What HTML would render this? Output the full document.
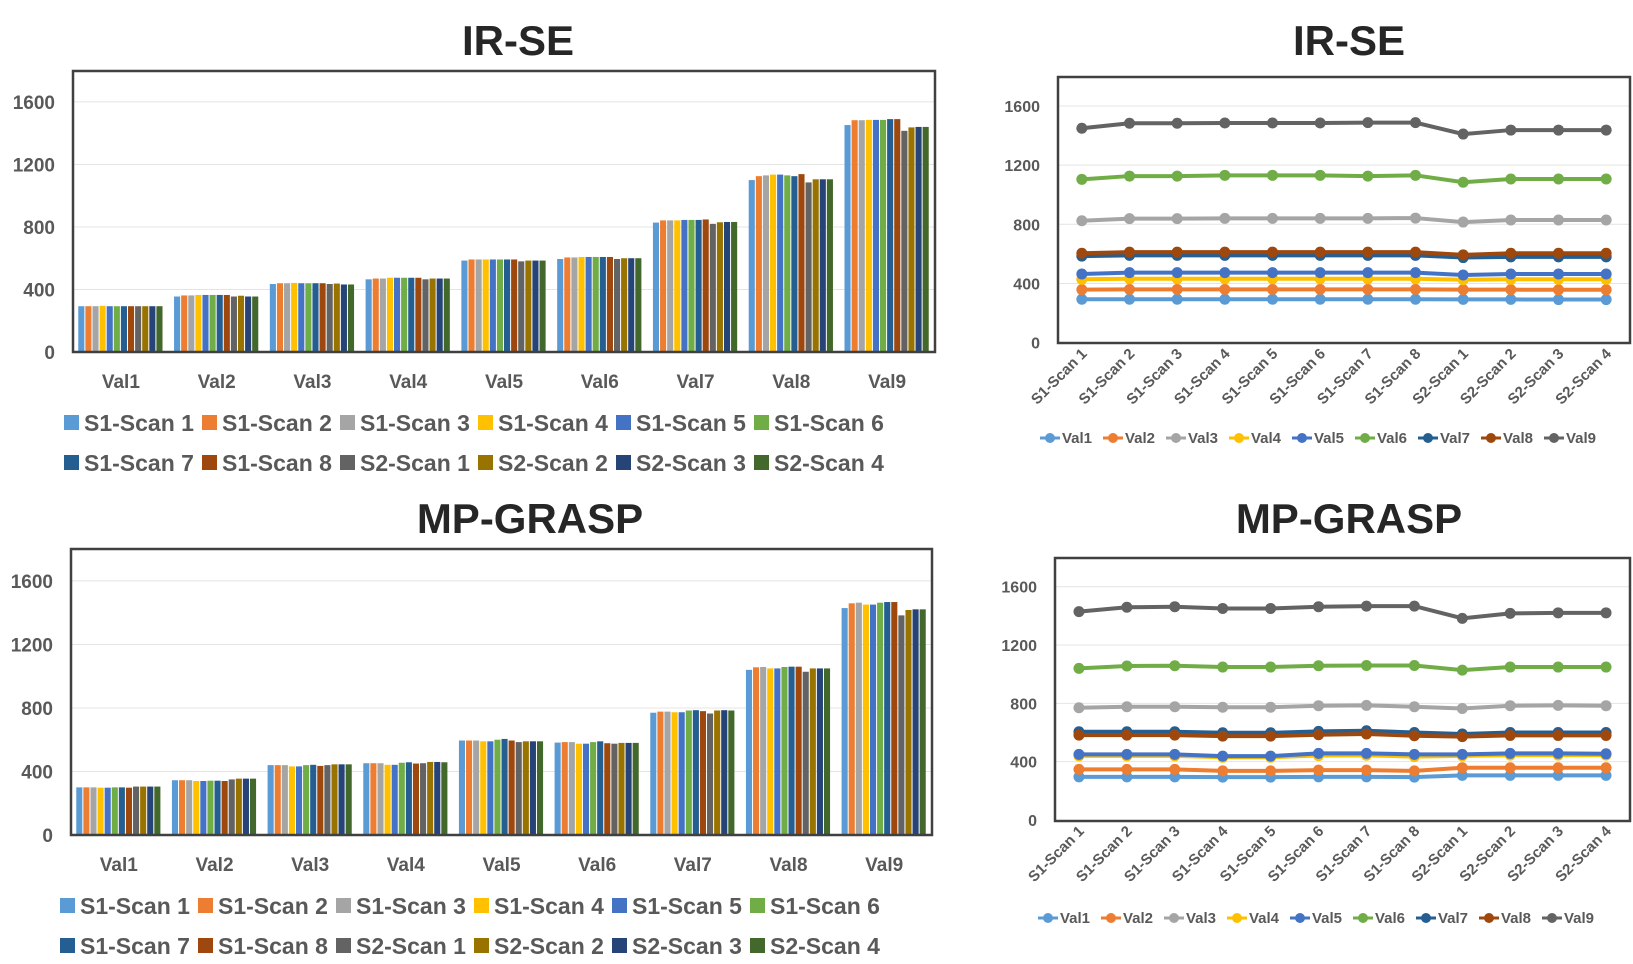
<!DOCTYPE html>
<html><head><meta charset="utf-8"><style>
html,body{margin:0;padding:0;background:#fff;}
svg{display:block;font-family:"Liberation Sans",sans-serif;}
</style></head><body>
<svg id="s" width="1633" height="964" viewBox="0 0 1633 964" xmlns="http://www.w3.org/2000/svg"></svg>
<script>
const categories = ["Val1","Val2","Val3","Val4","Val5","Val6","Val7","Val8","Val9"];
const scans = ["S1-Scan 1","S1-Scan 2","S1-Scan 3","S1-Scan 4","S1-Scan 5","S1-Scan 6","S1-Scan 7","S1-Scan 8","S2-Scan 1","S2-Scan 2","S2-Scan 3","S2-Scan 4"];
const yTicks = [0,400,800,1200,1600];
const colors = ["#5B9BD5","#ED7D31","#A5A5A5","#FFC000","#4472C4","#70AD47","#255E91","#9E480E","#636363","#997300","#264478","#43682B"];
// IR-SE bars: values per category (12 scans)
const irBarVal1 = [293,293,293,295,293,293,293,293,293,293,293,293];
const irBarVal2 = [355,362,362,365,365,365,365,365,355,360,355,355];
const irBarVal3 = [435,440,440,442,440,440,440,440,435,438,432,432];
const irBarVal4 = [465,470,470,475,475,475,475,475,465,470,470,470];
const irBarVal5 = [585,592,592,592,592,592,592,592,580,585,585,585];
const irBarVal6 = [595,605,605,608,608,608,608,608,595,600,600,600];
const irBarVal7 = [828,842,842,842,845,845,845,848,820,830,832,832];
const irBarVal8 = [1100,1125,1130,1135,1135,1130,1125,1138,1085,1105,1105,1105];
const irBarVal9 = [1452,1483,1483,1485,1485,1485,1490,1490,1415,1437,1440,1440];
// MP-GRASP bars
const mpBarVal1 = [300,300,300,298,298,300,300,298,305,305,305,305];
const mpBarVal2 = [345,345,345,340,340,342,342,340,350,355,355,355];
const mpBarVal3 = [440,440,440,432,432,440,442,435,440,445,445,445];
const mpBarVal4 = [452,452,452,442,442,455,458,450,452,460,460,458];
const mpBarVal5 = [595,595,595,590,590,600,605,595,585,590,590,590];
const mpBarVal6 = [582,585,585,575,575,585,590,578,575,580,580,580];
const mpBarVal7 = [770,777,777,773,773,784,786,780,765,784,786,784];
const mpBarVal8 = [1040,1056,1058,1049,1049,1058,1060,1060,1028,1049,1049,1049];
const mpBarVal9 = [1429,1459,1463,1451,1451,1463,1467,1467,1383,1417,1421,1421];
// IR-SE lines: values per series across 12 scans
const irLineVal1 = [293,293,293,293,293,293,293,293,292,292,291,291];
const irLineVal2 = [358,360,360,360,360,360,360,360,358,358,357,357];
const irLineVal3 = [824,838,838,840,840,840,840,842,815,829,829,829];
const irLineVal4 = [428,432,432,432,432,432,432,432,425,428,428,428];
const irLineVal5 = [464,473,473,473,473,473,473,473,457,464,464,464];
const irLineVal6 = [1104,1126,1126,1131,1131,1131,1126,1131,1084,1106,1106,1106];
const irLineVal7 = [585,590,590,590,590,590,590,590,575,580,580,580];
const irLineVal8 = [604,612,612,612,612,612,612,612,593,604,604,604];
const irLineVal9 = [1449,1483,1483,1485,1485,1485,1487,1487,1410,1437,1437,1437];
// MP-GRASP lines
const mpLineVal1 = [296,296,296,294,294,296,296,294,306,306,306,306];
const mpLineVal2 = [347,347,347,337,337,342,342,337,358,358,358,358];
const mpLineVal3 = [770,777,777,773,773,784,786,777,765,784,786,784];
const mpLineVal4 = [440,440,440,430,430,442,444,435,440,445,445,445];
const mpLineVal5 = [450,450,450,438,438,457,457,450,450,457,457,454];
const mpLineVal6 = [1040,1056,1058,1049,1049,1058,1060,1060,1028,1049,1049,1049];
const mpLineVal7 = [605,605,605,598,598,608,612,600,590,600,600,600];
const mpLineVal8 = [582,582,582,575,575,585,590,578,572,580,580,580];
const mpLineVal9 = [1429,1459,1463,1451,1451,1463,1467,1467,1383,1417,1421,1421];

const irBars = [irBarVal1,irBarVal2,irBarVal3,irBarVal4,irBarVal5,irBarVal6,irBarVal7,irBarVal8,irBarVal9];
const mpBars = [mpBarVal1,mpBarVal2,mpBarVal3,mpBarVal4,mpBarVal5,mpBarVal6,mpBarVal7,mpBarVal8,mpBarVal9];
const irLines = [irLineVal1,irLineVal2,irLineVal3,irLineVal4,irLineVal5,irLineVal6,irLineVal7,irLineVal8,irLineVal9];
const mpLines = [mpLineVal1,mpLineVal2,mpLineVal3,mpLineVal4,mpLineVal5,mpLineVal6,mpLineVal7,mpLineVal8,mpLineVal9];

const NS="http://www.w3.org/2000/svg";
const svg=document.getElementById('s');
function mk(tag,attrs,parent,text){const e=document.createElementNS(NS,tag);for(const k in attrs)e.setAttribute(k,attrs[k]);if(text!==undefined)e.textContent=text;(parent||svg).appendChild(e);return e;}

function title(txt,cx,y,name){
  const t=mk('text',{x:cx,y:y,'text-anchor':'middle','font-size':42,'font-weight':'bold',fill:'#262626'},svg,txt);
  
  
}

function barChart(o){
  const g=mk('g',{});
  
  
  const y=v=>o.y0-v*o.k;
  yTicks.forEach(t=>{
    if(t>0){const gl=mk('line',{x1:o.l,x2:o.r,y1:y(t),y2:y(t),stroke:'#e4e4e4','stroke-width':1},g);
    
    }
    const tl=mk('text',{x:o.l-18,y:y(t)+7,'text-anchor':'end','font-size':19,'font-weight':'bold',fill:'#595959'},g,String(t));
    
    
  });
  const band=(o.r-o.l)/categories.length;
  const bw=(band*0.89)/scans.length;
  categories.forEach((c,ci)=>{
    const gx=o.l+ci*band+band*0.055;
    o.data[ci].forEach((v,si)=>{
      const b=mk('rect',{x:gx+si*bw,y:y(v),width:bw-1,height:o.y0-y(v),fill:colors[si]},g);
      
      
    });
    const cl=mk('text',{x:o.l+ci*band+band/2,y:o.catY,'text-anchor':'middle','font-size':19,'font-weight':'bold',fill:'#595959'},g,c);
    
    
  });
  const fr=mk('rect',{x:o.l,y:o.t,width:o.r-o.l,height:o.y0-o.t,fill:'none',stroke:'#404040','stroke-width':2.5},g);
  
  
  scans.forEach((s,i)=>{
    const row=Math.floor(i/6),col=i%6;
    const lx=o.legX+col*138, ly=o.legY+row*40;
    const e=mk('g',{},g);
    
    
    mk('rect',{x:lx,y:ly-16,width:15,height:15,fill:colors[i]},e);
    mk('text',{x:lx+20,y:ly,'font-size':23,'font-weight':'bold',fill:'#595959'},e,s);
  });
}

function lineChart(o){
  const g=mk('g',{});
  
  
  const y=v=>o.y0-v*o.k;
  const step=(o.r-o.l)/scans.length;
  const x=i=>o.l+step*(i+0.5);
  yTicks.forEach(t=>{
    if(t>0){const gl=mk('line',{x1:o.l,x2:o.r,y1:y(t),y2:y(t),stroke:'#e4e4e4','stroke-width':1},g);
    
    }
    const tl=mk('text',{x:o.l-18,y:y(t)+6,'text-anchor':'end','font-size':16,'font-weight':'bold',fill:'#595959'},g,String(t));
    
    
  });
  scans.forEach((s,i)=>{
    const tx=x(i)+6, ty=o.y0+12;
    const tl=mk('text',{x:tx,y:ty,'text-anchor':'end','font-size':15,'font-weight':'bold',fill:'#595959',transform:`rotate(-45 ${tx} ${ty})`},g,s);
    
    
  });
  o.data.forEach((arr,si)=>{
    const pts=arr.map((v,i)=>x(i)+','+y(v)).join(' ');
    const pl=mk('polyline',{points:pts,fill:'none',stroke:colors[si],'stroke-width':4},g);
    
    
    arr.forEach((v,i)=>{
      const c=mk('circle',{cx:x(i),cy:y(v),r:5.5,fill:colors[si]},g);
      
      
    });
  });
  const fr=mk('rect',{x:o.l,y:o.t,width:o.r-o.l,height:o.bottom-o.t,fill:'none',stroke:'#404040','stroke-width':2.5},g);
  
  
  categories.forEach((c,i)=>{
    const lx=o.legX+i*63, ly=o.legY;
    const e=mk('g',{},g);
    
    
    mk('line',{x1:lx,x2:lx+20,y1:ly-5,y2:ly-5,stroke:colors[i],'stroke-width':3},e);
    mk('circle',{cx:lx+10,cy:ly-5,r:5,fill:colors[i]},e);
    mk('text',{x:lx+22,y:ly,'font-size':15,'font-weight':'bold',fill:'#595959'},e,c);
  });
}

title('IR-SE',518,55,'title-irse-bar');
title('MP-GRASP',530,533,'title-mpgrasp-bar');
title('IR-SE',1349,55,'title-irse-line');
title('MP-GRASP',1349,533,'title-mpgrasp-line');

barChart({name:'irse-bar-chart',l:73,r:935,t:71,y0:352,k:0.1563,catY:388,legX:64,legY:431,data:irBars});
barChart({name:'mpgrasp-bar-chart',l:71,r:932,t:549,y0:835,k:0.1588,catY:871,legX:60,legY:914,data:mpBars});
lineChart({name:'irse-line-chart',l:1058,r:1630,t:77,bottom:343,y0:342.6,k:0.1479,legX:1040,legY:443,data:irLines});
lineChart({name:'mpgrasp-line-chart',l:1055,r:1630,t:558,bottom:821,y0:820,k:0.1458,legX:1038,legY:923,data:mpLines});
</script>
</body></html>
